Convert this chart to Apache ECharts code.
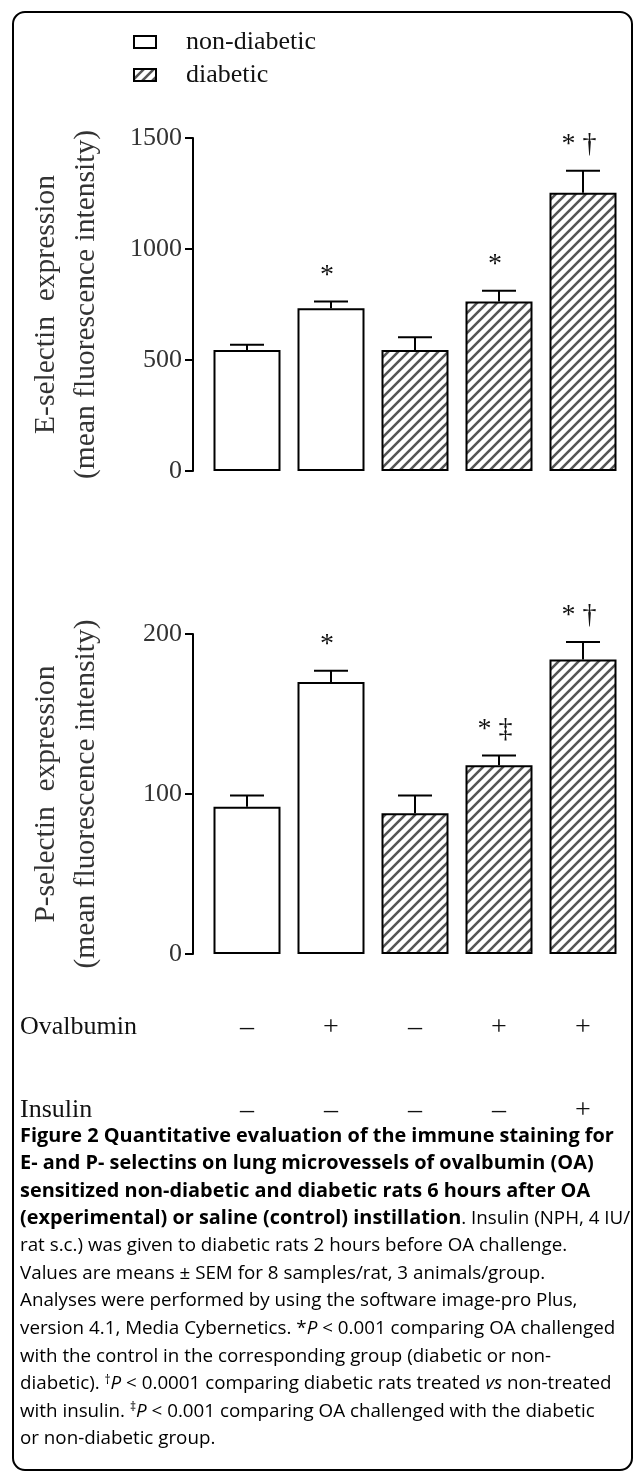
<!DOCTYPE html>
<html><head><meta charset="utf-8">
<script src="https://cdn.jsdelivr.net/npm/echarts@6/dist/echarts.min.js"></script>
<style>html,body{margin:0;padding:0;background:#fff}#c{width:633px;height:1473px}</style>
</head><body><div id="c"></div>
<script>
// ---- data ----
const groups = ['Control non-diabetic', 'OA non-diabetic', 'Control diabetic', 'OA diabetic', 'OA diabetic + insulin'];
const isDiabetic = [false, false, true, true, true];
const eMean = [545, 733, 545, 764, 1253];
const eSem = [24, 31, 57, 48, 99];
const eSig = ['', '*', '', '*', '* †'];
const pMean = [92, 170, 88, 118, 184];
const pSem = [7, 7, 11, 6, 11];
const pSig = ['', '*', '', '* ‡', '* †'];
const ovalbumin = ['–', '+', '–', '+', '+'];
const insulin = ['–', '–', '–', '–', '+'];
const eAxis = { min: 0, max: 1500, interval: 500 };
const pAxis = { min: 0, max: 200, interval: 100 };
const legendNames = ['non-diabetic', 'diabetic'];
const eTitle = 'E-selectin  expression\n(mean fluorescence intensity)';
const pTitle = 'P-selectin  expression\n(mean fluorescence intensity)';
const caption = [
  [['b', 'Figure 2 Quantitative evaluation of the immune staining for']],
  [['b', 'E- and P- selectins on lung microvessels of ovalbumin (OA)']],
  [['b', 'sensitized non-diabetic and diabetic rats 6 hours after OA']],
  [['b', '(experimental) or saline (control) instillation'], ['r', '. Insulin (NPH, 4 IU/']],
  [['r', 'rat s.c.) was given to diabetic rats 2 hours before OA challenge.']],
  [['r', 'Values are means ± SEM for 8 samples/rat, 3 animals/group.']],
  [['r', 'Analyses were performed by using the software image-pro Plus,']],
  [['r', 'version 4.1, Media Cybernetics. *'], ['i', 'P'], ['r', ' < 0.001 comparing OA challenged']],
  [['r', 'with the control in the corresponding group (diabetic or non-']],
  [['r', 'diabetic). '], ['s', '†'], ['i', 'P'], ['r', ' < 0.0001 comparing diabetic rats treated '], ['i', 'vs'], ['r', ' non-treated']],
  [['r', 'with insulin. '], ['s', '‡'], ['i', 'P'], ['r', ' < 0.001 comparing OA challenged with the diabetic']],
  [['r', 'or non-diabetic group.']]
];

// ---- styles ----
const SERIF = '"Liberation Serif", "DejaVu Serif", serif';
const SANS = '"Open Sans", "Noto Sans", sans-serif';
function hatchCanvas() {
  const s = 10, c = document.createElement('canvas');
  c.width = s; c.height = s;
  const g = c.getContext('2d');
  g.fillStyle = '#fff'; g.fillRect(0, 0, s, s);
  g.strokeStyle = '#555'; g.lineWidth = 2.6;
  g.beginPath();
  g.moveTo(-1, s + 1); g.lineTo(s + 1, -1);
  g.moveTo(-s / 2 - 1, s / 2 + 1); g.lineTo(s / 2 + 1, -s / 2 - 1);
  g.moveTo(s / 2 - 1, s * 1.5 + 1); g.lineTo(s * 1.5 + 1, s / 2 - 1);
  g.stroke();
  return c;
}
const hatch = { image: hatchCanvas(), repeat: 'repeat' };

const chart = echarts.init(document.getElementById('c'), null, { renderer: 'canvas' });

function barSeries(name, means, gi, fill) {
  return {
    name, type: 'bar', xAxisIndex: gi, yAxisIndex: gi,
    data: means.map((m, i) => (isDiabetic[i] === (name === 'diabetic') ? m : '-')),
    barWidth: 67, barGap: '-100%',
    itemStyle: { color: fill, borderColor: '#000', borderWidth: 2 },
    silent: true
  };
}
function errSeries(gi, means, sems, sigs) {
  return {
    type: 'custom', xAxisIndex: gi, yAxisIndex: gi, z: 5, silent: true, clip: false,
    data: means.map((m, i) => [i, m, m + sems[i]]),
    encode: { x: 0, y: [1, 2] },
    renderItem: (params, api) => {
      const i = api.value(0);
      const lo = api.coord([i, api.value(1)]);
      const hi = api.coord([i, api.value(2)]);
      const cap = 17;
      const s = sigs[params.dataIndex];
      const ch = [
        { type: 'line', shape: { x1: lo[0], y1: lo[1], x2: hi[0], y2: hi[1] }, style: { stroke: '#000', lineWidth: 2 } },
        { type: 'line', shape: { x1: hi[0] - cap, y1: hi[1], x2: hi[0] + cap, y2: hi[1] }, style: { stroke: '#000', lineWidth: 2 } }
      ];
      if (s) ch.push({ type: 'text', x: hi[0] - 4, y: hi[1] - 12,
        style: { text: s, align: 'center', verticalAlign: 'bottom', font: '28px ' + SERIF, fill: '#111' } });
      return { type: 'group', children: ch };
    }
  };
}
function yAxis(gi, ax, title) {
  return {
    type: 'value', gridIndex: gi, min: ax.min, max: ax.max, interval: ax.interval, offset: 12,
    axisLine: { show: true, lineStyle: { color: '#000', width: 2 } },
    axisTick: { show: true, length: 8, lineStyle: { color: '#000', width: 2 } },
    splitLine: { show: false },
    axisLabel: { margin: 11, color: '#333', fontFamily: SERIF, fontSize: 26, formatter: (v) => String(v) },
    name: title, nameLocation: 'middle', nameRotate: 90, nameGap: 87,
    nameTextStyle: { color: '#333', fontFamily: SERIF, fontSize: 29.5, lineHeight: 40 }
  };
}
function xAxis(gi, labels, offset) {
  return {
    type: 'category', gridIndex: gi, data: groups, position: 'bottom', offset: offset || 0,
    axisLine: { show: false }, axisTick: { show: false }, splitLine: { show: false },
    axisLabel: labels ? { show: true, margin: 60, color: '#111', fontFamily: SERIF, fontSize: 28, lineHeight: 28,
      formatter: (v) => labels[groups.indexOf(v)] } : { show: false }
  };
}

const LH = 27.6, CAP_TOP = 1126;
const FS = 18.8;
const rich = {
  b: { fontFamily: SANS, fontSize: 19.9, fontWeight: 'bold', color: '#231f20' },
  r: { fontFamily: SANS, fontSize: FS, color: '#231f20' },
  i: { fontFamily: SANS, fontSize: FS, fontStyle: 'italic', color: '#231f20' },
  s: { fontFamily: SANS, fontSize: 12, color: '#231f20', verticalAlign: 'top', padding: [0, 0, 7, 0] }
};
const graphics = [
  { type: 'rect', shape: { x: 13, y: 12, width: 619, height: 1458, r: 12 }, style: { fill: 'none', stroke: '#000', lineWidth: 2 }, silent: true },
  { type: 'text', x: 20, y: 1027, style: { text: 'Ovalbumin', font: '26px ' + SERIF, fill: '#111', verticalAlign: 'middle' } },
  { type: 'text', x: 20, y: 1110, style: { text: 'Insulin', font: '26px ' + SERIF, fill: '#111', verticalAlign: 'middle' } }
];
caption.forEach((line, k) => {
  graphics.push({ type: 'text', x: 20, y: CAP_TOP + k * LH,
    style: { text: line.map(([st, t]) => '{' + st + '|' + t + '}').join(''), rich, verticalAlign: 'top' } });
});

chart.setOption({
  animation: false,
  backgroundColor: '#fff',
  legend: {
    orient: 'vertical', left: 128, top: 24, itemWidth: 22, itemHeight: 12, itemGap: 7,
    icon: 'rect', data: legendNames, selectedMode: false,
    textStyle: { color: '#111', fontFamily: SERIF, fontSize: 26, padding: [0, 0, 0, 25] }
  },
  grid: [
    { left: 205, width: 420, top: 138, height: 333 },
    { left: 205, width: 420, top: 634, height: 320 }
  ],
  xAxis: [xAxis(0, null), xAxis(1, ovalbumin, 0), xAxis(1, insulin, 83)],
  yAxis: [yAxis(0, eAxis, eTitle), yAxis(1, pAxis, pTitle)],
  series: [
    barSeries('non-diabetic', eMean, 0, '#fff'),
    barSeries('diabetic', eMean, 0, hatch),
    errSeries(0, eMean, eSem, eSig),
    barSeries('non-diabetic', pMean, 1, '#fff'),
    barSeries('diabetic', pMean, 1, hatch),
    errSeries(1, pMean, pSem, pSig)
  ],
  graphic: graphics
});
</script></body></html>
